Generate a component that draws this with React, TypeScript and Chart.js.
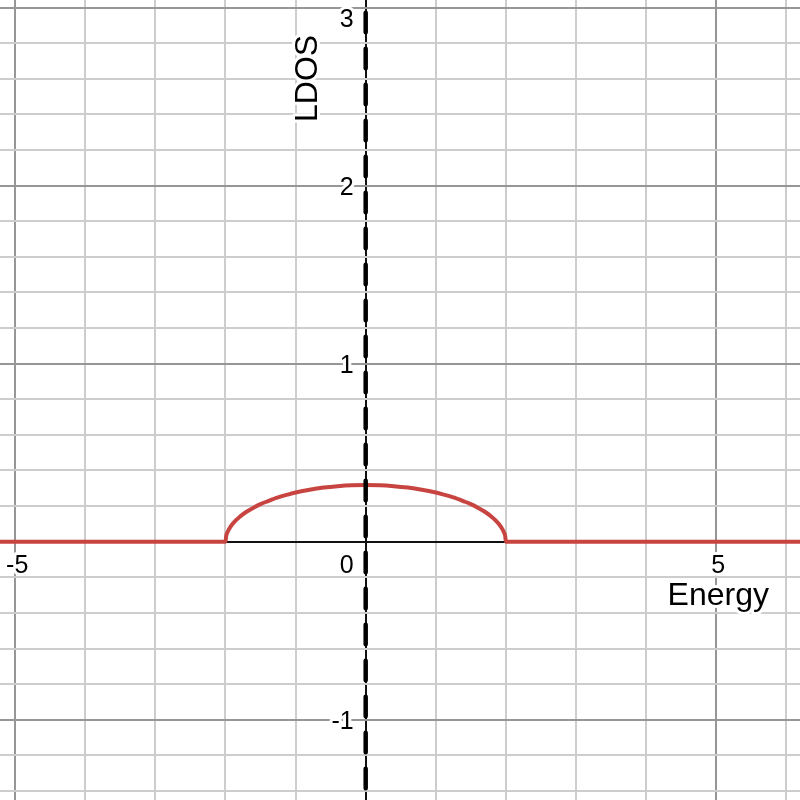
import { useEffect, useRef } from "react"
import { Chart, registerables } from "chart.js"

Chart.register(...registerables)

// semicircular local density of states
const energy = [
  -5.3, -2, -1.99, -1.97, -1.94, -1.9, -1.85, -1.8, -1.7, -1.6, -1.5, -1.4, -1.25, -1.1, -1, -0.8, -0.6, -0.4, -0.2,
  0, 0.2, 0.4, 0.6, 0.8, 1, 1.1, 1.25, 1.4, 1.5, 1.6, 1.7, 1.8, 1.85, 1.9, 1.94, 1.97, 1.99, 2, 6.3,
]
const ldos = [
  0, 0, 0.032, 0.055, 0.077, 0.099, 0.121, 0.139, 0.168, 0.191, 0.211, 0.227, 0.249, 0.266, 0.276, 0.292, 0.304, 0.312,
  0.317, 0.318, 0.317, 0.312, 0.304, 0.292, 0.276, 0.266, 0.249, 0.227, 0.211, 0.191, 0.168, 0.139, 0.121, 0.099,
  0.077, 0.055, 0.032, 0, 0,
]

// dashed marker line at E = 0
const markerEnergy = [0, 0]
const markerLdos = [3.1, -1.5]

const xTickLabels = [-5, 0, 5]
const yTickLabels = [-1, 1, 2, 3]

const X_MIN = -5.217
const X_MAX = 6.196
const Y_MIN = -1.451
const Y_MAX = 3.043

const MINOR = "rgb(205,205,205)"
const MAJOR = "rgb(150,150,150)"
const FONT = "'Liberation Sans', Arial, sans-serif"

const isInt = (v: number, step: number) => Math.abs(v / step - Math.round(v / step)) < 1e-6

const labelPlugin = {
  id: "desmosLabels",
  beforeDatasetsDraw(chart: any) {
    const { ctx, scales } = chart
    const xs = scales.x
    const ys = scales.y
    const x0 = xs.getPixelForValue(0)
    const y0 = ys.getPixelForValue(0)

    const halo = (text: string, x: number, y: number) => {
      ctx.strokeText(text, x, y)
      ctx.fillText(text, x, y)
    }

    ctx.save()
    ctx.fillStyle = "#000"
    ctx.strokeStyle = "#fff"
    ctx.lineWidth = 6
    ctx.lineJoin = "round"
    ctx.textBaseline = "alphabetic"
    ctx.font = `25px ${FONT}`

    xTickLabels.forEach((v) => {
      const px = xs.getPixelForValue(v)
      if (v === 0) {
        ctx.textAlign = "right"
        halo("0", x0 - 12, y0 + 31)
      } else {
        ctx.textAlign = "center"
        halo(String(v), px + 2, y0 + 31)
      }
    })

    ctx.textAlign = "right"
    yTickLabels.forEach((v) => {
      const py = ys.getPixelForValue(v)
      halo(String(v), x0 - 12, Math.max(py + 9, 27))
    })

    ctx.font = `32px ${FONT}`
    ctx.textAlign = "right"
    halo("Energy", 769, y0 + 63)

    ctx.translate(x0 - 49, 122)
    ctx.rotate(-Math.PI / 2)
    ctx.textAlign = "left"
    halo("LDOS", 0, 0)
    ctx.restore()
  },
}

const gridColor = (step: number, major: number) => (c: any) => {
  const v = c.tick.value
  if (Math.abs(v) < 1e-6) return "#111"
  return isInt(v, major) ? MAJOR : MINOR
}

const LdosChart = () => {
  const canvasRef = useRef<HTMLCanvasElement>(null)

  useEffect(() => {
    if (!canvasRef.current) return
    const chart = new Chart(canvasRef.current, {
      type: "scatter",
      data: {
        datasets: [
          {
            data: markerEnergy.map((x, i) => ({ x, y: markerLdos[i] })),
            showLine: true,
            borderColor: "#000",
            borderWidth: 4.5,
            borderDash: [19.5, 16.5],
            borderDashOffset: 13,
            borderCapStyle: "round",
            pointRadius: 0,
            order: 0,
          },
          {
            data: energy.map((x, i) => ({ x, y: ldos[i] })),
            showLine: true,
            borderColor: "#c74440",
            borderWidth: 4,
            cubicInterpolationMode: "monotone",
            borderJoinStyle: "round",
            pointRadius: 0,
            order: 1,
          },
        ],
      },
      options: {
        responsive: true,
        maintainAspectRatio: false,
        animation: false,
        layout: { padding: 0 },
        plugins: { legend: { display: false }, tooltip: { enabled: false } },
        scales: {
          x: {
            type: "linear",
            min: X_MIN,
            max: X_MAX,
            afterBuildTicks: (s: any) => {
              const t = []
              for (let v = -5; v <= 6; v++) t.push({ value: v })
              s.ticks = t
            },
            afterFit: (s: any) => {
              s.height = 0
            },
            ticks: { display: false },
            border: { display: false },
            grid: { drawTicks: false, lineWidth: 2, color: gridColor(1, 5) },
          },
          y: {
            type: "linear",
            min: Y_MIN,
            max: Y_MAX,
            afterBuildTicks: (s: any) => {
              const t = []
              for (let k = -7; k <= 15; k++) t.push({ value: k / 5 })
              s.ticks = t
            },
            afterFit: (s: any) => {
              s.width = 0
            },
            ticks: { display: false },
            border: { display: false },
            grid: { drawTicks: false, lineWidth: 2, color: gridColor(0.2, 1) },
          },
        },
      },
      plugins: [labelPlugin],
    })
    return () => chart.destroy()
  }, [])

  return <canvas ref={canvasRef} />
}

export default function App() {
  return (
    <div style={{ position: "fixed", left: 0, top: 0, width: 800, height: 800, background: "#fff" }}>
      <LdosChart />
    </div>
  )
}
